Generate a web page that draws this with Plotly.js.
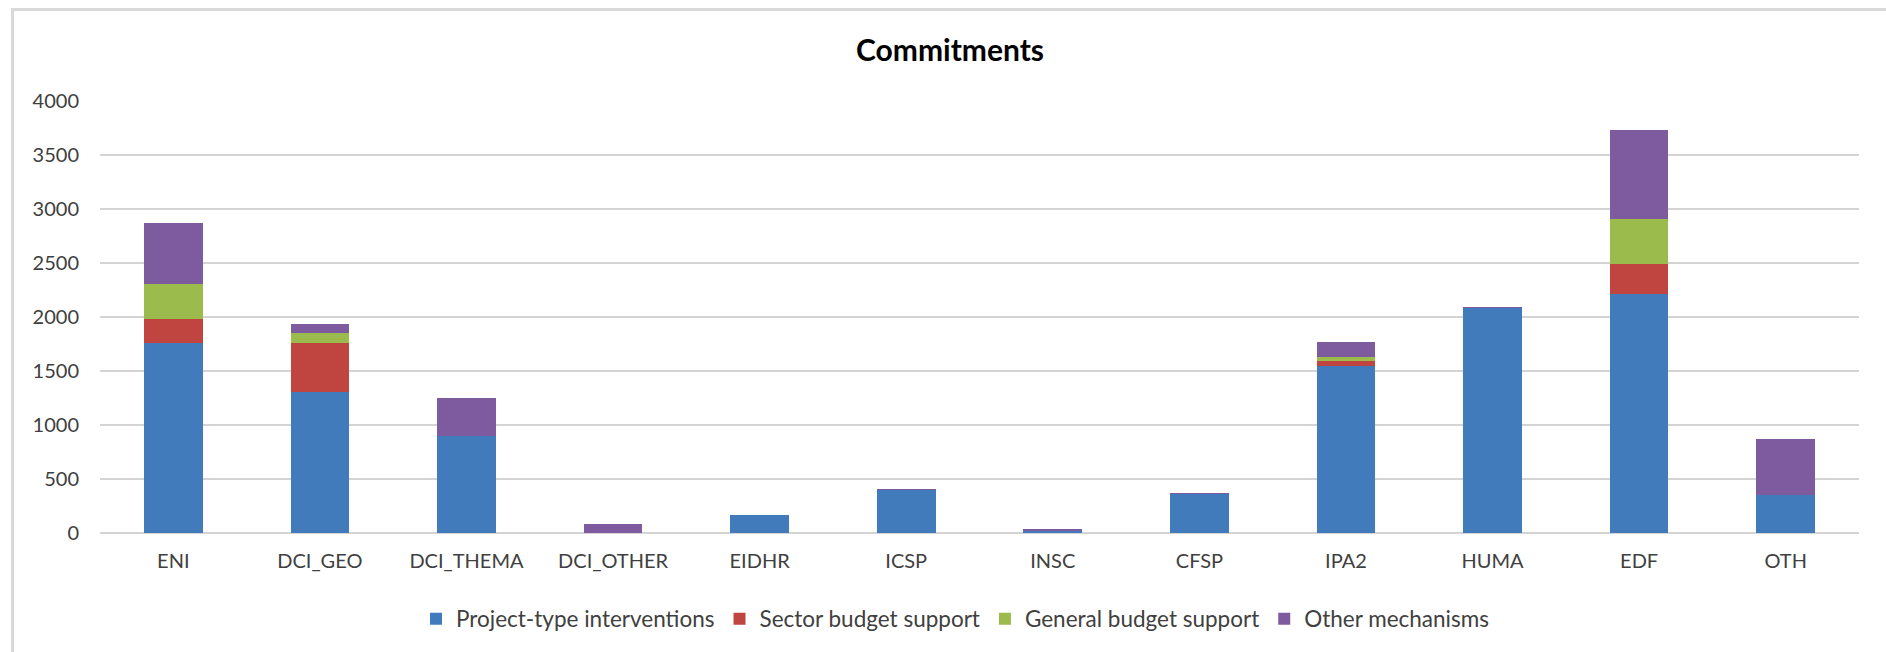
<!DOCTYPE html>
<html>
<head>
<meta charset="utf-8">
<script src="https://cdn.plot.ly/plotly-3.0.1.min.js"></script>
<style>
  html, body { margin: 0; padding: 0; background: #ffffff; }
  #wrap { position: relative; width: 1886px; height: 652px; overflow: hidden; }
  #chart { position: absolute; left: 0; top: 0; width: 1886px; height: 652px; }
  #frame { position: absolute; left: 11px; top: 8px; width: 1900px; height: 700px;
           border-left: 3px solid #d9d9d9; border-top: 3px solid #d9d9d9; pointer-events: none; }
</style>
</head>
<body>
<div id="wrap">
  <div id="chart"></div>
  <div id="frame"></div>
</div>
<script>
// Categories (financing instruments)
const categories = ["ENI", "DCI_GEO", "DCI_THEMA", "DCI_OTHER", "EIDHR", "ICSP", "INSC", "CFSP", "IPA2", "HUMA", "EDF", "OTH"];

// Series values (commitments)
const projectType   = [1757, 1304, 897, 0, 165, 398, 17, 360, 1550, 2085, 2216, 354];
const sectorBudget  = [224, 456, 0, 0, 0, 0, 0, 0, 43, 0, 271, 0];
const generalBudget = [321, 95, 0, 0, 0, 0, 0, 0, 40, 0, 416, 0];
const otherMech     = [564, 77, 357, 85, 5, 7, 18, 6, 139, 7, 829, 518];

const seriesNames = ["Project-type interventions", "Sector budget support", "General budget support", "Other mechanisms"];
const seriesColors = ["#427bbb", "#c0443f", "#9bbb4c", "#7e5b9f"];
const seriesValues = [projectType, sectorBudget, generalBudget, otherMech];

const yTicks = [0, 500, 1000, 1500, 2000, 2500, 3000, 3500, 4000];

const traces = seriesValues.map((vals, i) => ({
  type: "bar",
  name: seriesNames[i],
  x: categories,
  y: vals,
  marker: { color: seriesColors[i], line: { width: 0 } },
  hoverinfo: "x+y+name"
}));

const W = 1886, H = 652;
const layout = {
  width: W, height: H,
  paper_bgcolor: "#ffffff",
  plot_bgcolor: "#ffffff",
  barmode: "stack",
  bargap: 0.6,
  margin: { l: 100, r: 27, t: 101, b: 119, pad: 0 },
  font: { family: "Lato, 'Open Sans', sans-serif", size: 20, color: "#404040" },
  title: {
    text: "Commitments",
    font: { family: "Lato, 'Open Sans', sans-serif", size: 30, color: "#000000", weight: "bold" },
    xref: "container", yref: "container",
    x: 950 / W, xanchor: "center",
    y: 1 - 50 / H, yanchor: "middle"
  },
  xaxis: {
    type: "category",
    showgrid: false,
    showline: false,
    zeroline: false,
    ticks: "",
    ticklabelstandoff: 14,
    tickfont: { size: 20, color: "#404040" },
    fixedrange: true
  },
  yaxis: {
    range: [0, 4000],
    tickvals: yTicks,
    ticktext: yTicks.map(String),
    showgrid: true,
    gridcolor: "#d4d4d4",
    gridwidth: 2,
    zeroline: true,
    zerolinecolor: "#d4d4d4",
    zerolinewidth: 2,
    showline: false,
    ticks: "",
    ticklabelstandoff: 20,
    tickfont: { size: 20, color: "#404040" },
    fixedrange: true
  },
  showlegend: true,
  legend: {
    orientation: "h",
    xref: "container", yref: "container",
    x: 955 / W, xanchor: "center",
    y: 1 - 619 / H, yanchor: "middle",
    font: { size: 22.5, color: "#404040" },
    traceorder: "normal",
    itemclick: false
  }
};

Plotly.newPlot("chart", traces, layout, { displayModeBar: false, staticPlot: true });
</script>
</body>
</html>
